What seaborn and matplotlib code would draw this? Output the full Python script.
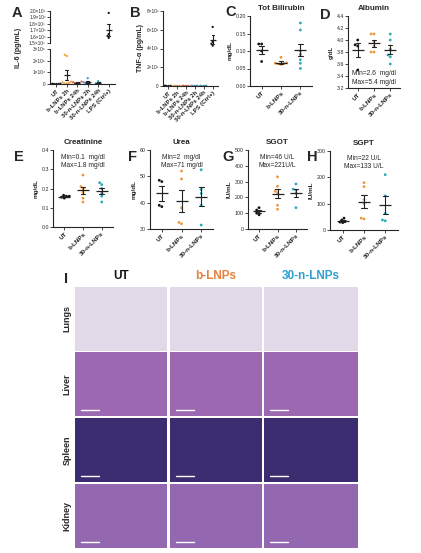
import numpy as np
import pandas as pd
import seaborn as sns
import matplotlib.pyplot as plt

sns.set_style("ticks")
plt.rcParams["font.family"] = ["Liberation Sans", "DejaVu Sans"]
plt.rcParams["axes.linewidth"] = 0.8

W, H = 421, 553

# --- cytokines (A, B) ---
cyto_groups = ["UT", "b-LNPs 2h", "b-LNPs 24h", "30-n-LNPs 2h", "30-n-LNPs 24h", "LPS (Ctrl+)"]
cyto_colors = ["#111111", "#f2a23a", "#e8623c", "#4a8fd2", "#2aa9bb", "#111111"]

il6_ut = [100, 200, 50, 150, 80]
il6_b2h = [25000, 24000, 2000, 1000, 500, 1500, 500]
il6_b24h = [2000, 1500, 1000, 500, 800]
il6_n2h = [5000, 1500, 1000, 500, 800]
il6_n24h = [2500, 1000, 500, 300]
il6_lps = [197000, 164000, 161000, 158000]

tnf_ut = [20, 10, 30, 15]
tnf_b2h = [20, 15, 10, 25]
tnf_b24h = [15, 20, 10, 30]
tnf_n2h = [10, 20, 15, 25]
tnf_n24h = [20, 10, 25, 15]
tnf_lps = [6300, 4700, 4500, 4300]

# --- biochemistry (C-H) ---
bio_groups = ["UT", "b-LNPs", "30-n-LNPs"]
bio_colors = ["#111111", "#f0963a", "#2aa9c0"]

bili_ut = [0.12, 0.12, 0.10, 0.07]
bili_b = [0.082, 0.066, 0.065, 0.064, 0.063, 0.062]
bili_n = [0.18, 0.16, 0.10, 0.09, 0.075, 0.065, 0.05]

alb_ut = [4.0, 3.92, 3.9, 3.5]
alb_b = [4.1, 4.1, 3.97, 3.9, 3.8, 3.8]
alb_n = [4.1, 4.0, 3.85, 3.75, 3.72, 3.6]

crea_ut = [0.165, 0.16, 0.16, 0.155, 0.15]
crea_b = [0.27, 0.21, 0.2, 0.18, 0.15, 0.13]
crea_n = [0.23, 0.22, 0.2, 0.175, 0.16, 0.13]

urea_ut = [48.5, 48, 39, 38.5]
urea_b = [52, 49, 38, 32.5, 32]
urea_n = [52.5, 45, 43.5, 39, 31.5]

sgot_ut = [135, 120, 110, 100, 90]
sgot_b = [330, 270, 240, 230, 150, 125]
sgot_n = [285, 252, 245, 225, 135]

sgpt_ut = [45, 38, 33, 30, 28]
sgpt_b = [180, 165, 115, 100, 45, 42]
sgpt_n = [210, 130, 63, 38, 35]

# --- histology (I) ---
tissues = ["Lungs", "Liver", "Spleen", "Kidney"]
hist_cols = ["UT", "b-LNPs", "30-n-LNPs"]
hist_title_colors = ["#111111", "#e8803a", "#2e9fd0"]
tissue_colors = ["#e2d9e8", "#9d68b2", "#3b2d70", "#9468b0"]


def frame(groups, *vals):
    rows = []
    for g, v in zip(groups, vals):
        for x in v:
            rows.append({"group": g, "value": x})
    return pd.DataFrame(rows)


def px(x0, y0, x1, y1):
    return [x0 / W, 1 - y1 / H, (x1 - x0) / W, (y1 - y0) / H]


def dots(ax, df, order, palette, msize, mwidth):
    sns.swarmplot(data=df, x="group", y="value", hue="group", order=order,
                  hue_order=order, palette=palette, size=msize, ax=ax,
                  legend=False, zorder=1)
    sns.pointplot(data=df, x="group", y="value", order=order, errorbar="se",
                  color="#222222", markers="_", markersize=mwidth,
                  markeredgewidth=0.9, linestyle="none", capsize=0.25,
                  err_kws={"linewidth": 0.8}, ax=ax)
    ax.set_xlabel("")
    ax.tick_params(length=2, width=0.6, labelsize=3.8, pad=1)
    sns.despine(ax=ax)


def xlabels(ax, labels, size=4.6):
    ax.set_xticks(range(len(labels)))
    ax.set_xticklabels(labels, rotation=45, ha="right", rotation_mode="anchor",
                       fontsize=size, fontweight="bold")


fig = plt.figure(figsize=(W / 100, H / 100), dpi=100)

# A: broken axis IL-6
il6 = frame(cyto_groups, il6_ut, il6_b2h, il6_b24h, il6_n2h, il6_n24h, il6_lps)
axA_top = fig.add_axes(px(50, 11, 115, 43))
axA_bot = fig.add_axes(px(50, 49, 115, 84))
for ax in (axA_top, axA_bot):
    dots(ax, il6, cyto_groups, cyto_colors, 1.6, 5)
    ax.set_ylabel("")
    ax.tick_params(axis="y", labelsize=3.4)
axA_top.set_ylim(150000, 200000)
axA_top.set_yticks([150000, 160000, 170000, 180000, 190000, 200000])
axA_top.set_yticklabels(["1.5×10⁵", "1.6×10⁵", "1.7×10⁵", "1.8×10⁵", "1.9×10⁵", "2.0×10⁵"])
axA_top.spines["bottom"].set_visible(False)
axA_top.tick_params(axis="x", bottom=False, labelbottom=False)
axA_top.set_xlim(-0.6, 5.6)
axA_bot.set_ylim(0, 30000)
axA_bot.set_yticks([0, 10000, 20000, 30000])
axA_bot.set_yticklabels(["0", "1×10⁴", "2×10⁴", "3×10⁴"])
axA_bot.set_xlim(-0.6, 5.6)
xlabels(axA_bot, cyto_groups, 4.3)
fig.text(19 / W, 1 - 48 / H, "IL-6 (pg/mL)", rotation=90, ha="center", va="center",
         fontsize=5, fontweight="bold")

# B: TNF-a
tnf = frame(cyto_groups, tnf_ut, tnf_b2h, tnf_b24h, tnf_n2h, tnf_n24h, tnf_lps)
axB = fig.add_axes(px(163, 11, 218, 86))
dots(axB, tnf, cyto_groups, cyto_colors, 1.6, 5)
axB.tick_params(axis="y", labelsize=3.4)
axB.set_ylim(0, 8000)
axB.set_yticks([0, 2000, 4000, 6000, 8000])
axB.set_yticklabels(["0", "2×10³", "4×10³", "6×10³", "8×10³"])
axB.set_ylabel("TNF-α (pg/mL)", fontsize=5, fontweight="bold", labelpad=2)
axB.set_xlim(-0.6, 5.6)
xlabels(axB, cyto_groups, 4.3)

# C-H
panels = [
    ("C", "Tot Bilirubin", (250, 16, 312, 86), (bili_ut, bili_b, bili_n),
     (0, 0.2), [0, 0.05, 0.10, 0.15, 0.20], "{:.2f}", "mg/dL", None, (225, 12)),
    ("D", "Albumin", (348, 16, 400, 88), (alb_ut, alb_b, alb_n),
     (3.2, 4.4), [3.2, 3.4, 3.6, 3.8, 4.0, 4.2, 4.4], "{:.1f}", "g/dL",
     ("Min=2.6  mg/dl\nMax=5.4 mg/dl", 0.08, 0.03, "left", "bottom"), (320, 15)),
    ("E", "Creatinine", (53, 150, 113, 227), (crea_ut, crea_b, crea_n),
     (0, 0.4), [0, 0.1, 0.2, 0.3, 0.4], "{:.1f}", "mg/dL",
     ("Min=0.1  mg/dl\nMax=1.8 mg/dl", 0.5, 0.95, "center", "top"), (14, 157)),
    ("F", "Urea", (150, 150, 213, 229), (urea_ut, urea_b, urea_n),
     (30, 60), [30, 40, 50, 60], "{:.0f}", "mg/dL",
     ("Min=2  mg/dl\nMax=71 mg/dl", 0.5, 0.95, "center", "top"), (128, 157)),
    ("G", "SGOT", (248, 150, 307, 229), (sgot_ut, sgot_b, sgot_n),
     (0, 500), [0, 100, 200, 300, 400, 500], "{:.0f}", "IU/mL",
     ("Min=46 U/L\nMax=221U/L", 0.5, 0.95, "center", "top"), (222, 157)),
    ("H", "SGPT", (330, 151, 398, 230), (sgpt_ut, sgpt_b, sgpt_n),
     (0, 300), [0, 100, 200, 300], "{:.0f}", "IU/mL",
     ("Min=22 U/L\nMax=133 U/L", 0.5, 0.95, "center", "top"), (307, 157)),
]

for letter, title, box, vals, ylim, yticks, fmt, ylabel, note, lpos in panels:
    ax = fig.add_axes(px(*box))
    df = frame(bio_groups, *vals)
    dots(ax, df, bio_groups, bio_colors, 2.0, 9)
    ax.set_ylim(*ylim)
    ax.set_yticks(yticks)
    ax.set_yticklabels([fmt.format(t) for t in yticks])
    ax.set_xlim(-0.6, 2.6)
    xlabels(ax, bio_groups)
    ax.set_ylabel(ylabel, fontsize=4.6, fontweight="bold", labelpad=2)
    ax.set_title(title, fontsize=5.8, fontweight="bold", pad=4)
    if note:
        txt, tx, ty, ha, va = note
        ax.text(tx, ty, txt, transform=ax.transAxes, ha=ha, va=va, fontsize=4.8,
                linespacing=1.3)
    fig.text(lpos[0] / W, 1 - lpos[1] / H, letter, fontsize=10.5, fontweight="bold",
             ha="left", va="center")

fig.text(12 / W, 1 - 13 / H, "A", fontsize=10.5, fontweight="bold", ha="left", va="center")
fig.text(130 / W, 1 - 13 / H, "B", fontsize=10.5, fontweight="bold", ha="left", va="center")

# I: histology grid
col_x = [(75, 167), (170, 262), (264, 358)]
row_y = [(287, 351), (352, 416), (418, 482), (484, 548)]
for j, (name, c) in enumerate(zip(hist_cols, hist_title_colors)):
    x0, x1 = col_x[j]
    fig.text((x0 + x1) / 2 / W, 1 - 276 / H, name, color=c, fontsize=8.5,
             fontweight="bold", ha="center", va="center")
for i, tissue in enumerate(tissues):
    y0, y1 = row_y[i]
    fig.text(67 / W, 1 - (y0 + y1) / 2 / H, tissue, rotation=90, fontsize=6.5,
             fontweight="bold", ha="center", va="center")
    for j in range(len(hist_cols)):
        x0, x1 = col_x[j]
        ax = fig.add_axes(px(x0, y0, x1, y1))
        ax.set_facecolor(tissue_colors[i])
        ax.set_xticks([])
        ax.set_yticks([])
        for s in ax.spines.values():
            s.set_visible(False)
        if i > 0:
            ax.plot([0.06, 0.26], [0.1, 0.1], color="white", lw=1,
                    transform=ax.transAxes)
fig.text(64 / W, 1 - 279 / H, "I", fontsize=10.5, fontweight="bold", ha="left", va="center")

fig.savefig("out.png", dpi=100)
